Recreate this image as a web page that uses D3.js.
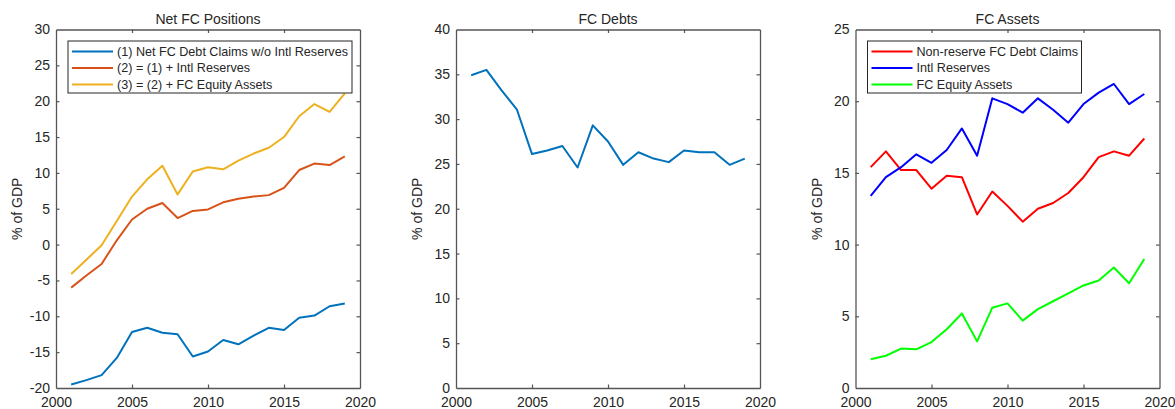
<!DOCTYPE html>
<html>
<head>
<meta charset="utf-8">
<script src="https://cdn.jsdelivr.net/npm/d3@7"></script>
<style>
  html, body { margin: 0; padding: 0; background: #fff; }
  svg { display: block; }
  text { font-family: "Liberation Sans", Arial, Helvetica, sans-serif; fill: #262626; }
</style>
</head>
<body>
<svg id="chart" width="1175" height="409"></svg>
<script>
// Years shared by every panel
const years = [2001, 2002, 2003, 2004, 2005, 2006, 2007, 2008, 2009, 2010,
               2011, 2012, 2013, 2014, 2015, 2016, 2017, 2018, 2019];

// Net FC positions (% of GDP)
const netDebtClaims = [-19.5, -18.9, -18.2, -15.8, -12.2, -11.6, -12.3, -12.5, -15.6, -14.9,
                       -13.3, -13.9, -12.7, -11.6, -11.9, -10.2, -9.9, -8.6, -8.2];
const plusReserves  = [-6.0, -4.3, -2.7, 0.6, 3.5, 5.0, 5.8, 3.7, 4.7, 4.9,
                       5.9, 6.4, 6.7, 6.9, 7.9, 10.4, 11.3, 11.1, 12.3];
const plusEquity    = [-4.1, -2.1, -0.1, 3.3, 6.7, 9.1, 11.0, 7.0, 10.2, 10.8,
                       10.5, 11.7, 12.7, 13.5, 15.0, 17.9, 19.6, 18.5, 21.1];

// FC debts (% of GDP)
const fcDebts = [34.9, 35.5, 33.2, 31.1, 26.1, 26.5, 27.0, 24.6, 29.3, 27.5,
                 24.9, 26.3, 25.6, 25.2, 26.5, 26.3, 26.3, 24.9, 25.6];

// FC assets (% of GDP)
const nonReserveClaims = [15.4, 16.5, 15.2, 15.2, 13.9, 14.8, 14.7, 12.1, 13.7, 12.7,
                          11.6, 12.5, 12.9, 13.6, 14.7, 16.1, 16.5, 16.2, 17.4];
const intlReserves     = [13.4, 14.7, 15.4, 16.3, 15.7, 16.6, 18.1, 16.2, 20.2, 19.8,
                          19.2, 20.2, 19.4, 18.5, 19.8, 20.6, 21.2, 19.8, 20.5];
const equityAssets     = [2.0, 2.25, 2.75, 2.7, 3.2, 4.1, 5.2, 3.25, 5.6, 5.9,
                          4.7, 5.5, 6.05, 6.6, 7.15, 7.5, 8.4, 7.3, 9.0];

// Axis tick values
const xTicks = [2000, 2005, 2010, 2015, 2020];
const yTicksNet = [-20, -15, -10, -5, 0, 5, 10, 15, 20, 25, 30];
const yTicksDebt = [0, 5, 10, 15, 20, 25, 30, 35, 40];
const yTicksAssets = [0, 5, 10, 15, 20, 25];

const panels = [
  {
    title: "Net FC Positions", left: 56, yDomain: [-20, 30], yTicks: yTicksNet,
    series: [
      { name: "(1) Net FC Debt Claims w/o Intl Reserves", values: netDebtClaims, color: "#0072BD" },
      { name: "(2) = (1) + Intl Reserves", values: plusReserves, color: "#D95319" },
      { name: "(3) = (2) + FC Equity Assets", values: plusEquity, color: "#EDB120" }
    ],
    legend: { x: 68, y: 41, w: 284, h: 52 }
  },
  {
    title: "FC Debts", left: 456, yDomain: [0, 40], yTicks: yTicksDebt,
    series: [ { name: "FC Debts", values: fcDebts, color: "#0072BD" } ],
    legend: null
  },
  {
    title: "FC Assets", left: 855.5, yDomain: [0, 25], yTicks: yTicksAssets,
    series: [
      { name: "Non-reserve FC Debt Claims", values: nonReserveClaims, color: "#FF0000" },
      { name: "Intl Reserves", values: intlReserves, color: "#0000FF" },
      { name: "FC Equity Assets", values: equityAssets, color: "#00FF00" }
    ],
    legend: { x: 867.5, y: 41, w: 214, h: 52 }
  }
];

const svg = d3.select("#chart");
const plotTop = 29.5, plotH = 358.5, plotW = 304;
const axisColor = "#555555";
const tickLen = 3.5;
const fmt = d => String(d); // plain hyphen for negatives

panels.forEach(p => {
  const g = svg.append("g").attr("transform", `translate(${p.left},${plotTop})`);
  const x = d3.scaleLinear().domain([2000, 2020]).range([0, plotW]);
  const y = d3.scaleLinear().domain(p.yDomain).range([plotH, 0]);

  // Lines
  const line = d3.line().x((d, i) => x(years[i])).y(d => y(d));
  const clipId = "clip-" + Math.round(p.left);
  g.append("clipPath").attr("id", clipId).append("rect")
    .attr("width", plotW).attr("height", plotH);
  p.series.forEach(s => {
    g.append("path").datum(s.values)
      .attr("clip-path", `url(#${clipId})`)
      .attr("fill", "none").attr("stroke", s.color)
      .attr("stroke-width", 2).attr("stroke-linejoin", "round")
      .attr("d", line);
  });

  // Box axes with inward ticks on all four sides
  const bottomAx = d3.axisBottom(x).tickValues(xTicks).tickSizeInner(-tickLen).tickSizeOuter(0).tickPadding(9).tickFormat(fmt);
  const topAx = d3.axisTop(x).tickValues(xTicks).tickSizeInner(-tickLen).tickSizeOuter(0).tickFormat("");
  const leftAx = d3.axisLeft(y).tickValues(p.yTicks).tickSizeInner(-tickLen).tickSizeOuter(0).tickPadding(6).tickFormat(fmt);
  const rightAx = d3.axisRight(y).tickValues(p.yTicks).tickSizeInner(-tickLen).tickSizeOuter(0).tickFormat("");

  const gb = g.append("g").attr("transform", `translate(0,${plotH})`).call(bottomAx);
  const gt = g.append("g").call(topAx);
  const gl = g.append("g").call(leftAx);
  const gr = g.append("g").attr("transform", `translate(${plotW},0)`).call(rightAx);
  [gb, gt, gl, gr].forEach(a => {
    a.select(".domain").attr("stroke", axisColor).attr("stroke-width", 1.3);
    a.selectAll(".tick line").attr("stroke", axisColor).attr("stroke-width", 1.2);
    a.selectAll(".tick text").attr("fill", "#262626")
      .style("font-family", '"Liberation Sans", Arial, sans-serif').style("font-size", "14px");
  });
  // Drop ticks that would sit on the box corners
  [gb, gt].forEach(a => a.selectAll(".tick line").filter(d => d === 2000 || d === 2020).remove());
  [gl, gr].forEach(a => a.selectAll(".tick line").filter(d => d === p.yDomain[0] || d === p.yDomain[1]).remove());

  // Title
  g.append("text").attr("x", plotW / 2).attr("y", -6)
    .attr("text-anchor", "middle").style("font-size", "14px").text(p.title);

  // Y axis label
  g.append("text")
    .attr("transform", `translate(${-34},${plotH / 2}) rotate(-90)`)
    .attr("text-anchor", "middle").style("font-size", "14px").text("% of GDP");

  // Legend
  if (p.legend) {
    const L = p.legend;
    const lg = svg.append("g").attr("transform", `translate(${L.x},${L.y})`);
    lg.append("rect").attr("width", L.w).attr("height", L.h)
      .attr("fill", "#fff").attr("stroke", "#262626").attr("stroke-width", 1);
    p.series.forEach((s, i) => {
      const cy = 10.5 + i * 16.5;
      lg.append("line").attr("x1", 4).attr("x2", 45).attr("y1", cy).attr("y2", cy)
        .attr("stroke", s.color).attr("stroke-width", 2);
      lg.append("text").attr("x", 49).attr("y", cy).attr("dy", "0.35em")
        .style("font-size", "12.6px").text(s.name);
    });
  }
});
</script>
</body>
</html>
